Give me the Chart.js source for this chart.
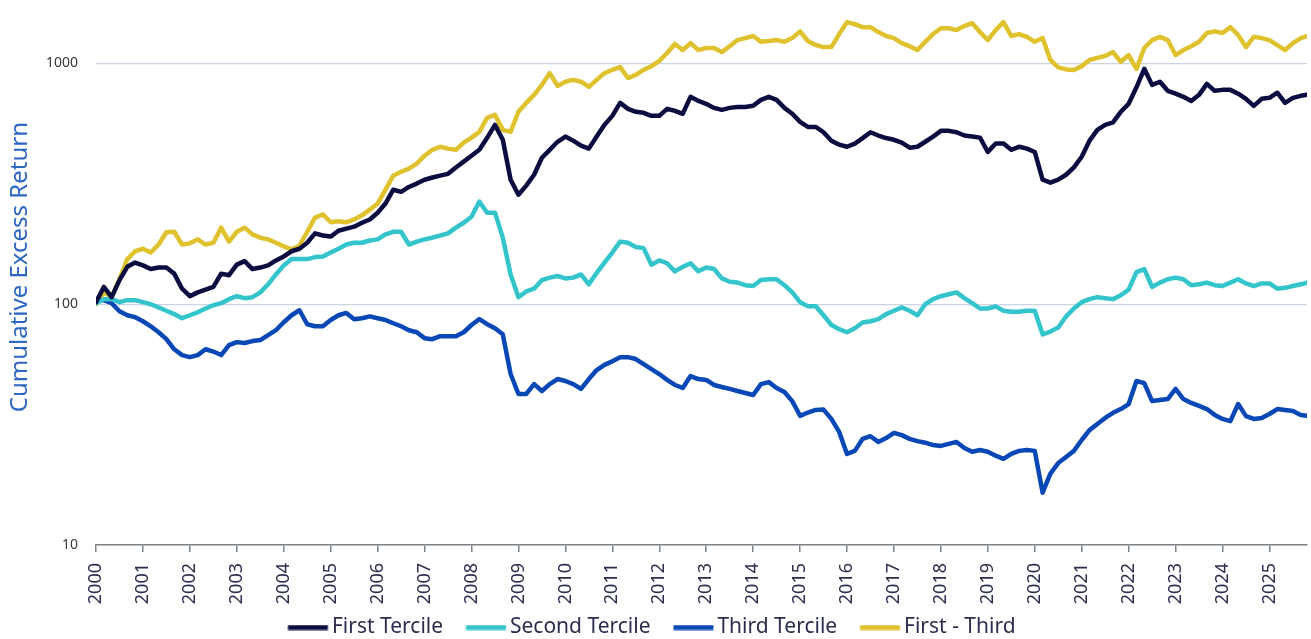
<!DOCTYPE html>
<html>
<head>
<meta charset="utf-8">
<script src="https://cdn.jsdelivr.net/npm/chart.js@4"></script>
<style>
  html, body { margin: 0; padding: 0; background: #ffffff; }
  #wrap { width: 1311px; height: 639px; }
</style>
</head>
<body>
<div id="wrap"><canvas id="excessChart" width="1311" height="639"></canvas></div>
<script>
// series names and colours
const seriesNames = ['First Tercile', 'Second Tercile', 'Third Tercile', 'First - Third'];
const seriesColors = ['#0b0c40', '#33c5cb', '#0747b6', '#dfc22e'];

// y axis ticks (log scale)
const yTicks = [10, 100, 1000];

// x axis: one label per year
const yearTicks = [];
for (let y = 2000; y <= 2025; y++) yearTicks.push(y);

// sample dates, every two months from Jan 2000, last one Oct 2025
const dates = [];
for (let k = 0; k <= 154; k++) dates.push(2000 + k / 6);
dates.push(2025.8);

// values
const firstTercile = [
  102, 118, 107, 126, 143, 149, 145, 140, 142, 142, 134, 116,
  108, 112, 115, 118, 134, 132, 146, 151, 140, 142, 145, 152,
  158, 166, 170, 180, 197, 193, 191, 202, 206, 210, 218, 225,
  240, 262, 299, 293, 307, 317, 329, 336, 342, 348, 370, 391,
  414, 438, 491, 556, 482, 329, 285, 311, 345, 406, 438, 473,
  497, 478, 456, 443, 497, 556, 606, 686, 648, 630, 624, 606,
  606, 648, 636, 618, 727, 699, 680, 654, 642, 654, 660, 660,
  667, 706, 727, 706, 654, 618, 572, 545, 545, 518, 478, 460,
  451, 465, 490, 518, 502, 490, 482, 469, 447, 451, 473, 497,
  525, 525, 518, 502, 497, 492, 429, 465, 465, 438, 451, 443,
  429, 329, 320, 329, 345, 370, 410, 478, 530, 556, 569, 630,
  680, 796, 950, 815, 840, 770, 749, 727, 699, 741, 823, 770,
  777, 777, 749, 713, 667, 713, 720, 756, 686, 720, 734, 741
];
const secondTercile = [
  101, 105, 105, 102, 104, 104, 102, 100, 97, 94, 91, 87.5,
  90, 92.6, 96, 99, 101, 105, 108, 106, 107, 112, 121, 133,
  145, 154, 154, 154, 157, 158, 164, 170, 177, 180, 180, 184,
  186, 195, 200, 200, 177, 182, 186, 189, 193, 197, 208, 218,
  231, 267, 240, 240, 189, 133, 107, 113, 116, 126, 129, 131,
  128, 129, 133, 121, 135, 149, 164, 182, 180, 173, 171, 146,
  152, 148, 137, 143, 148, 137, 142, 140, 128, 124, 123, 120,
  119, 126, 127, 127, 120, 112, 102, 98, 98, 90, 82, 78.8,
  76.5, 79.5, 84, 85, 86.7, 91, 94, 97, 94, 90, 100, 105,
  108, 110, 112, 106, 101, 96, 96, 98, 94, 93, 93, 94,
  94, 75, 77, 80, 89, 96, 102, 105, 107, 106, 105, 109,
  115, 136, 140, 118, 123, 127, 129, 127, 120, 121, 123, 120,
  119, 123, 127, 122, 119, 122, 122, 116, 117, 119, 121, 123
];
const thirdTercile = [
  104, 104, 101, 93.5, 90, 88.4, 85, 81, 76.5, 71.6, 65, 61.5,
  60.3, 61.5, 65, 63.6, 61.5, 67.6, 69.6, 69, 70.3, 71, 74.4, 78,
  84.2, 90, 94.4, 82.6, 81, 81, 86, 90, 92, 86.7, 87.5, 89,
  87.5, 86, 83.4, 81, 78, 76.5, 72.3, 71.6, 73.7, 73.7, 73.7, 76.5,
  82, 86.7, 82.6, 79.5, 75, 51.3, 42.4, 42.4, 46.6, 43.6, 46.6, 48.9,
  48, 46.6, 44.5, 48.9, 53.3, 56, 58, 60.3, 60.3, 59.2, 56.4, 53.8,
  51.3, 48.5, 46.2, 44.9, 50.3, 48.9, 48.5, 46.2, 45.3, 44.5, 43.6, 42.8,
  42, 46.6, 47.5, 44.9, 43.2, 39.6, 34.4, 35.5, 36.4, 36.5, 33.4, 29.5,
  23.9, 24.6, 27.6, 28.3, 26.8, 27.8, 29.2, 28.6, 27.6, 27, 26.6, 26,
  25.8, 26.3, 26.8, 25.3, 24.4, 24.8, 24.4, 23.5, 22.8, 23.9, 24.6, 24.8,
  24.6, 16.5, 19.8, 21.9, 23.2, 24.6, 27.3, 30, 31.8, 33.7, 35.4, 36.7,
  38.5, 48, 47, 39.6, 40, 40.4, 44.5, 40.4, 38.9, 37.8, 36.7, 34.7,
  33.4, 32.7, 38.5, 34.3, 33.4, 33.7, 35, 36.7, 36.4, 36, 34.7, 34.4
];
const firstMinusThird = [
  100, 112, 107, 127, 154, 166, 170, 164, 177, 199, 200, 177,
  179, 186, 177, 180, 208, 182, 200, 208, 195, 189, 186, 180,
  174, 169, 175, 200, 229, 236, 219, 221, 219, 225, 234, 247,
  262, 299, 342, 355, 366, 384, 414, 438, 451, 443, 438, 469,
  492, 520, 595, 612, 530, 520, 630, 686, 741, 815, 912, 807,
  840, 855, 840, 800, 855, 912, 940, 966, 870, 896, 940, 975,
  1024, 1106, 1205, 1137, 1215, 1137, 1160, 1160, 1115, 1180, 1251, 1275,
  1300, 1230, 1240, 1251, 1230, 1275, 1360, 1240, 1193, 1170, 1170, 1325,
  1485, 1456, 1415, 1415, 1350, 1300, 1275, 1215, 1180, 1137, 1230, 1325,
  1400, 1400, 1376, 1430, 1470, 1350, 1251, 1376, 1485, 1300, 1325, 1290,
  1230, 1275, 1034, 963, 945, 940, 975, 1034, 1055, 1075, 1115, 1015,
  1084, 950, 1160, 1251, 1290, 1251, 1084, 1137, 1180, 1230, 1338, 1360,
  1338, 1415, 1312, 1170, 1290, 1275, 1251, 1193, 1137, 1215, 1275, 1300
];

const allSeries = [firstTercile, secondTercile, thirdTercile, firstMinusThird];

function toPoints(values) {
  return values.map((v, i) => ({ x: dates[i], y: v }));
}

// legend marker: a short thick line that sits close to its text
function legendLine(color) {
  const c = document.createElement('canvas');
  c.width = 56;
  c.height = 6;
  const g = c.getContext('2d');
  g.fillStyle = color;
  g.fillRect(9.5, 0.5, 40, 5);
  return c;
}

const inkColor = '#2b2d4e';
const baseFont = "'Noto Sans', 'Open Sans', sans-serif";

const ctx = document.getElementById('excessChart').getContext('2d');
new Chart(ctx, {
  type: 'line',
  data: {
    datasets: seriesNames.map((name, i) => ({
      label: name,
      data: toPoints(allSeries[i]),
      borderColor: seriesColors[i],
      backgroundColor: seriesColors[i],
      borderWidth: 4.5,
      pointRadius: 0,
      tension: 0,
      borderJoinStyle: 'round',
      borderCapStyle: 'round'
    }))
  },
  options: {
    responsive: false,
    animation: false,
    layout: { padding: { top: 8, right: 4, left: 0, bottom: -9 } },
    plugins: {
      legend: {
        position: 'bottom',
        labels: {
          usePointStyle: true,
          pointStyleWidth: 30,
          boxHeight: 5,
          padding: 10,
          color: inkColor,
          font: { family: baseFont, size: 21 },
          generateLabels: chart => {
            const items = Chart.defaults.plugins.legend.labels.generateLabels(chart);
            items.forEach((it, i) => {
              it.lineWidth = 0;
              it.pointStyle = legendLine(seriesColors[i]);
              // extra room between legend entries
              if (i < items.length - 1) it.text = it.text + '   ';
            });
            return items;
          }
        }
      },
      tooltip: { enabled: false }
    },
    scales: {
      x: {
        type: 'linear',
        min: 2000,
        max: 2025.8,
        afterBuildTicks: scale => {
          scale.ticks = yearTicks.map(v => ({ value: v }));
        },
        afterFit: scale => { scale.height = 62; },
        ticks: {
          minRotation: 90,
          maxRotation: 90,
          autoSkip: false,
          padding: 11,
          color: inkColor,
          font: { family: baseFont, size: 18 },
          callback: v => String(v)
        },
        grid: {
          drawOnChartArea: false,
          drawTicks: true,
          tickLength: 7,
          color: '#7d8288',
          lineWidth: 1.5
        },
        border: { color: '#7d8288', width: 1.5 }
      },
      y: {
        type: 'logarithmic',
        min: 10,
        max: 1700,
        afterBuildTicks: scale => {
          scale.ticks = yTicks.map(v => ({ value: v }));
        },
        afterFit: scale => {
          scale.width = 96;
          // labels sit well inside the range, no need for edge room
          scale.paddingTop = 0;
          scale.paddingBottom = 0;
        },
        ticks: {
          padding: 18,
          color: '#3a3a3a',
          font: { family: baseFont, size: 14 },
          callback: v => String(v)
        },
        grid: {
          drawTicks: false,
          color: '#cbd5df',
          lineWidth: 1.2
        },
        border: { display: false },
        title: {
          display: true,
          text: '   Cumulative Excess Return',
          color: '#2d67c2',
          font: { family: baseFont, size: 24 },
          padding: { top: 6, bottom: 4 }
        }
      }
    }
  }
});
</script>
</body>
</html>
